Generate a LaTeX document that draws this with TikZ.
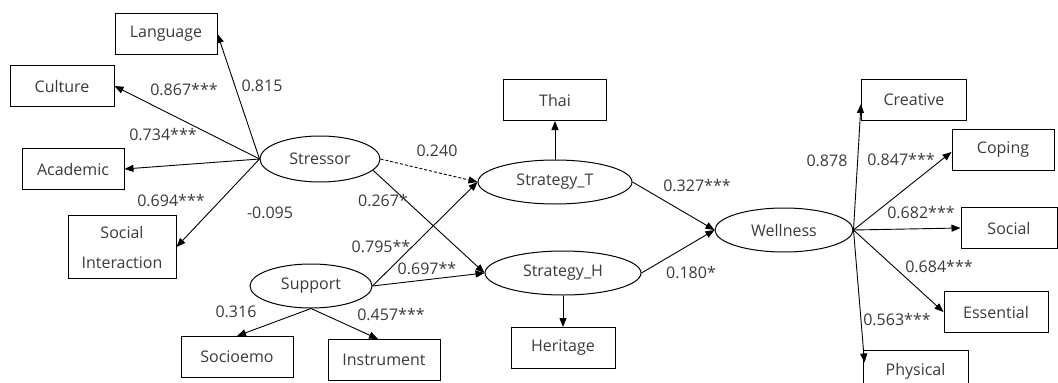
\documentclass[tikz,border=0pt]{standalone}
\usepackage{fontspec}
\setmainfont{Open Sans}
\usetikzlibrary{arrows.meta,shapes.geometric}
\definecolor{txt}{HTML}{3A3A3A}
\begin{document}
\begin{tikzpicture}[x=1pt,y=-1pt,
  every node/.style={font=\fontsize{16}{19}\selectfont, text=txt},
  box/.style={draw, line width=1pt, inner sep=0pt, minimum height=41pt},
  lat/.style={ellipse, draw, line width=1pt, inner sep=0pt, minimum height=44pt},
  lab/.style={inner sep=0pt},
  path/.style={line width=0.9pt, -{Triangle[length=9pt,width=7pt]}}]
\useasboundingbox (0,0) rectangle (1058,383);
\clip (0,0) rectangle (1058,383);
% observed variables
\node[box, minimum width=102pt] (lang) at (166,34) {Language};
\node[box, minimum width=104pt] (cult) at (62,86) {Culture};
\node[box, minimum width=102pt] (acad) at (73,169) {Academic};
\node[box, minimum width=108pt, minimum height=63pt, align=center, font=\fontsize{16}{30}\selectfont] (soci) at (122,247) {Social\\Interaction};
\node[box, minimum width=112pt] (socio) at (237,357) {Socioemo};
\node[box, minimum width=112pt] (instr) at (384,360) {Instrument};
\node[box, minimum width=103pt] (thai) at (555,100) {Thai};
\node[box, minimum width=104pt] (herit) at (563,348) {Heritage};
\node[box, minimum width=105pt] (creat) at (914,100) {Creative};
\node[box, minimum width=102pt] (coping) at (1003,150) {Coping};
\node[box, minimum width=96pt] (social) at (1009,228) {Social};
\node[box, minimum width=104pt] (essen) at (996,312) {Essential};
\node[box, minimum width=105pt, minimum height=42pt] (phys) at (915.5,371) {Physical};
% latent variables
\node[lat, minimum width=120pt, minimum height=46pt] (stress) at (320,159) {Stressor};
\node[lat, minimum width=122pt] (supp) at (311,286) {Support};
\node[lat, minimum width=154pt] (stratT) at (555,182) {Strategy\_T};
\node[lat, minimum width=156pt] (stratH) at (563,273) {Strategy\_H};
\node[lat, minimum width=138pt] (well) at (784,230) {Wellness};
% connectors
\draw[path] (stress.west) -- (lang.east);
\draw[path] (stress.west) -- (cult.east);
\draw[path] (stress.west) -- (acad.east);
\draw[path] (stress.west) -- (soci.east);
\draw[path, dash pattern=on 3pt off 2pt] (stress.east) -- (stratT.west);
\draw[path] (stress.-12) -- (stratH.west);
\draw[path] (supp.east) -- (stratT.west);
\draw[path] (supp.east) -- (stratH.west);
\draw[path] (supp.south) -- (socio.north);
\draw[path] (supp.south) -- ([xshift=-6pt]instr.north);
\draw[path] (stratT.north) -- (thai.south);
\draw[path] (stratH.south) -- (herit.north);
\draw[path] (stratT.east) -- (well.west);
\draw[path] (stratH.east) -- (well.west);
\draw[path] (well.east) -- ([yshift=-4pt]creat.west);
\draw[path] (well.east) -- ([yshift=-2pt]coping.west);
\draw[path] (well.east) -- (social.west);
\draw[path] (well.east) -- (essen.west);
\draw[path] (well.east) -- ([xshift=2pt,yshift=-13pt]phys.north west);
% labels
\node[lab] (l1) at (262,86) {0.815};
\node[lab] (l2) at (184,90) {0.867***};
\node[lab] (l3) at (163,135) {0.734***};
\node[lab] (l4) at (171,201) {0.694***};
\node[lab] (l5) at (270,213) {-0.095};
\node[lab] (l6) at (437,151) {0.240};
\node[lab] (l7) at (383,201) {0.267*};
\node[lab] (l8) at (381,247) {0.795**};
\node[lab] (l9) at (427,269) {0.697**};
\node[lab] (l10) at (236,312) {0.316};
\node[lab] (l11) at (391,315) {0.457***};
\node[lab] (l12) at (697,186) {0.327***};
\node[lab] (l13) at (691,273) {0.180*};
\node[lab] (l14) at (827,161) {0.878};
\node[lab] (l15) at (901,160) {0.847***};
\node[lab] (l16) at (921,213) {0.682***};
\node[lab] (l17) at (939,267) {0.684***};
\node[lab] (l18) at (897,320) {0.563***};
\end{tikzpicture}
\end{document}
